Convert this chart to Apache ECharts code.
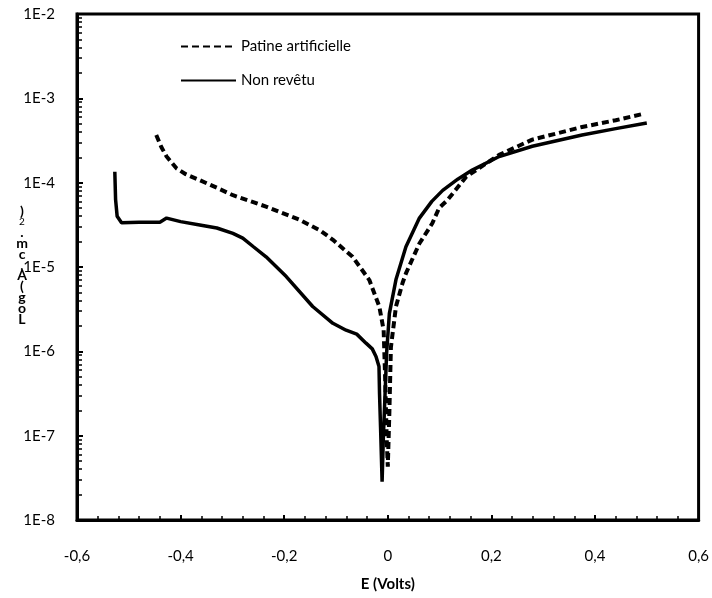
<!DOCTYPE html>
<html><head><meta charset="utf-8">
<script src="https://cdn.jsdelivr.net/npm/echarts@6/dist/echarts.min.js"></script>
<style>html,body{margin:0;padding:0;background:#fff}#c{width:712px;height:598px}</style>
</head><body><div id="c"></div>
<script>
// Non revêtu (solid)
const eNonRevetu = [-0.527,-0.5255,-0.5225,-0.514,-0.48,-0.44,-0.427,-0.40,-0.363,-0.33,-0.299,-0.28,-0.26,-0.235,-0.196,-0.145,-0.106,-0.0805,-0.06,-0.042,-0.03,-0.0228,-0.017,-0.016,-0.014,-0.011,-0.0085,-0.0067,-0.0023,0.003,0.0158,0.035,0.061,0.085,0.106,0.135,0.163,0.215,0.279,0.375,0.44,0.50];
const iNonRevetu = [1.35e-4,6.3e-5,4.0e-5,3.35e-5,3.4e-5,3.4e-5,3.8e-5,3.45e-5,3.15e-5,2.9e-5,2.5e-5,2.2e-5,1.75e-5,1.32e-5,7.7e-6,3.4e-6,2.15e-6,1.78e-6,1.6e-6,1.25e-6,1.07e-6,8.7e-7,6.6e-7,3.2e-7,1.26e-7,2.85e-8,1.0e-7,1.86e-7,9.5e-7,2.8e-6,7.1e-6,1.74e-5,3.8e-5,6.0e-5,8.1e-5,1.1e-4,1.41e-4,2.04e-4,2.7e-4,3.67e-4,4.37e-4,5.1e-4];
// Patine artificielle (dashed)
const ePatine = [-0.447,-0.437,-0.427,-0.408,-0.39,-0.363,-0.33,-0.299,-0.235,-0.1705,-0.13,-0.106,-0.068,-0.0356,-0.0164,-0.008,-0.005,-0.002,0.0,0.003,0.006,0.0158,0.0286,0.035,0.061,0.086,0.099,0.115,0.151,0.215,0.279,0.375,0.44,0.491];
const iPatine = [3.67e-4,2.63e-4,2.04e-4,1.48e-4,1.26e-4,1.07e-4,8.7e-5,7.1e-5,5.2e-5,3.63e-5,2.7e-5,2.1e-5,1.32e-5,7.0e-6,3.4e-6,1.78e-6,4.6e-7,8.9e-8,4.3e-8,1.86e-7,1.12e-6,3.4e-6,6.5e-6,8.4e-6,1.9e-5,3.3e-5,5.0e-5,6.2e-5,1.17e-4,2.14e-4,3.24e-4,4.57e-4,5.5e-4,6.5e-4];
const seriesNames = ['Patine artificielle', 'Non revêtu'];
const xTitle = 'E (Volts)';
const yTitleChars = ['L','o','g','(','A',',','c','m','.','2',')'];

const FONT = 'Lato';
const chart = echarts.init(document.getElementById('c'));
const pairs = (xs, ys) => xs.map((x, i) => [x, ys[i]]);

// y-axis title: garbled stacked characters (bottom-up)
const yTitleGraphics = yTitleChars.map((ch, i) => ({
  type: 'text',
  x: 22, y: 319 - i * 10.8,
  style: { text: ch, fill: '#000', font: (ch === '2' ? '10px ' : 'bold 14px ') + FONT, textAlign: 'center', textVerticalAlign: 'middle' }
}));

chart.setOption({
  animation: false,
  backgroundColor: '#fff',
  grid: { left: 77, right: 12, top: 14, bottom: 78, show: true, borderColor: '#000', borderWidth: 3 },
  legend: {
    orient: 'vertical', left: 175, top: 34, itemWidth: 55, itemHeight: 14, itemGap: 19,
    itemStyle: { opacity: 0 },
    textStyle: { fontFamily: FONT, fontSize: 15, color: '#000' },
    data: seriesNames
  },
  xAxis: {
    type: 'value', min: -0.6, max: 0.6, interval: 0.2,
    name: xTitle, nameLocation: 'middle', nameGap: 57,
    nameTextStyle: { fontFamily: FONT, fontSize: 15, fontWeight: 'bold', color: '#000' },
    axisLine: { onZero: false, lineStyle: { color: '#000', width: 3 } },
    axisTick: { inside: true, length: 5, lineStyle: { color: '#000', width: 2 } },
    minorTick: { show: true, splitNumber: 5, length: 4, lineStyle: { color: '#000', width: 1.5 } },
    splitLine: { show: false },
    axisLabel: { fontFamily: FONT, fontSize: 15, color: '#000', margin: 29,
      formatter: v => (Math.abs(v) < 1e-9 ? '0' : String(Math.round(v * 10) / 10).replace('.', ',')) }
  },
  yAxis: {
    type: 'log', logBase: 10, min: 1e-8, max: 1e-2,
    axisLine: { onZero: false, lineStyle: { color: '#000', width: 3 } },
    axisTick: { inside: true, length: 6, lineStyle: { color: '#000', width: 2 } },
    minorTick: { show: true, splitNumber: 9, length: 5, lineStyle: { color: '#000', width: 1.5 } },
    splitLine: { show: false },
    axisLabel: { fontFamily: FONT, fontSize: 15, color: '#000', margin: 22,
      formatter: v => '1E' + Math.round(Math.log10(v)) }
  },
  graphic: yTitleGraphics,
  series: [
    { name: seriesNames[0], type: 'line', data: pairs(ePatine, iPatine), showSymbol: false, symbol: 'none',
      lineStyle: { color: '#000', width: 4, type: [7, 4] }, itemStyle: { color: '#000' } },
    { name: seriesNames[1], type: 'line', data: pairs(eNonRevetu, iNonRevetu), showSymbol: false, symbol: 'none',
      lineStyle: { color: '#000', width: 3.5, type: 'solid' }, itemStyle: { color: '#000' } }
  ]
});
</script></body></html>
